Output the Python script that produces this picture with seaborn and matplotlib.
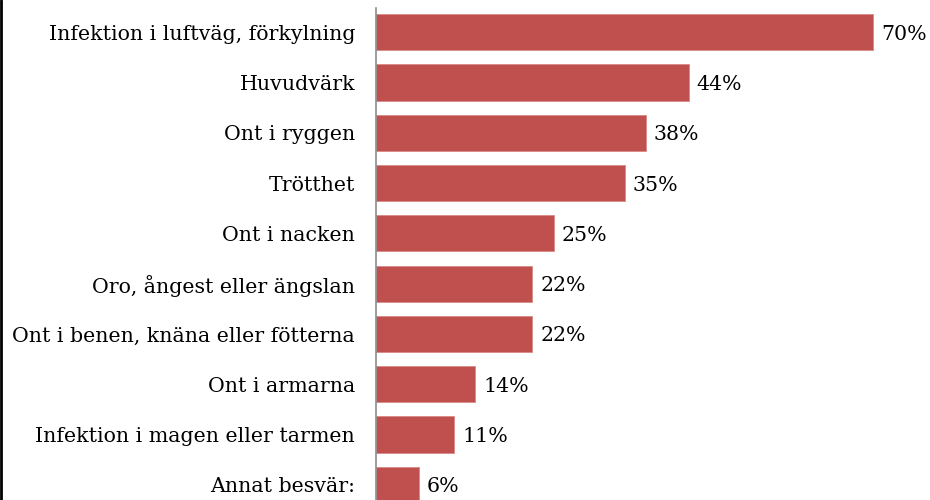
import matplotlib
matplotlib.use("Agg")
from matplotlib import pyplot as plt
from matplotlib.lines import Line2D
import seaborn as sns
import pandas as pd

# symptom categories and share of respondents (%)
categories = [
    "Infektion i luftväg, förkylning",
    "Huvudvärk",
    "Ont i ryggen",
    "Trötthet",
    "Ont i nacken",
    "Oro, ångest eller ängslan",
    "Ont i benen, knäna eller fötterna",
    "Ont i armarna",
    "Infektion i magen eller tarmen",
    "Annat besvär:",
]
values = [70, 44, 38, 35, 25, 22, 22, 14, 11, 6]
value_labels = ["70%", "44%", "38%", "35%", "25%", "22%", "22%", "14%", "11%", "6%"]

sns.set_style("white")
plt.rcParams['font.family'] = ['DejaVu Serif']

df = pd.DataFrame({"cat": categories, "val": values})

fig = plt.figure(figsize=(9.3, 5), dpi=100)
ax = fig.add_axes([376 / 930, 0, 1 - 376 / 930, 492 / 500])

sns.barplot(data=df, x="val", y="cat", order=categories, color="#C0504D",
            saturation=1, width=0.72, edgecolor="#D98A88", linewidth=0.6, ax=ax)

for bar, lab in zip(ax.patches, value_labels):
    ax.text(bar.get_width() + 1.1, bar.get_y() + bar.get_height() / 2, lab,
            va="center_baseline", ha="left", fontsize=14.8, color="black")

ax.set_xlim(0, 78)
ax.set_ylim(9.3, -0.48)
ax.set(xlabel=None, ylabel=None)
ax.set_xticks([])
ax.tick_params(axis="y", length=0, pad=15, labelsize=14.8, labelcolor="black")
for side in ["top", "right", "bottom"]:
    ax.spines[side].set_visible(False)
ax.spines["left"].set_color("#8c8c8c")
ax.spines["left"].set_linewidth(1.2)

# thin frame line on the left edge of the picture
fig.add_artist(Line2D([0.001, 0.001], [0, 1], color="black", linewidth=2,
                      transform=fig.transFigure))

fig.savefig("out.png", dpi=100)
